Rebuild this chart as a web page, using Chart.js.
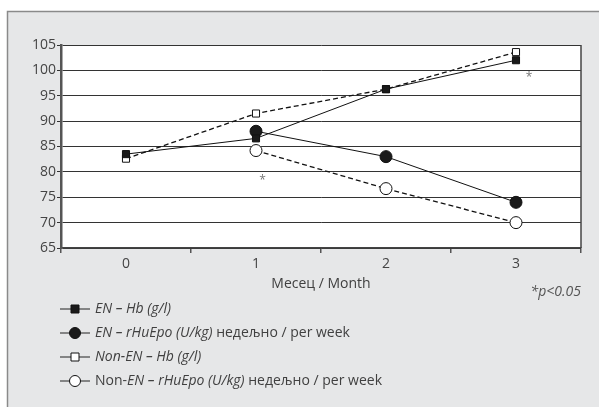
<!DOCTYPE html>
<html><head><meta charset="utf-8">
<script src="https://cdn.jsdelivr.net/npm/chart.js@4.4.0/dist/chart.umd.min.js"></script>
<style>
html,body{margin:0;padding:0;background:#fff;}
#wrap{position:relative;width:599px;height:407px;}
</style></head>
<body><div id="wrap"><canvas id="c" width="599" height="407"></canvas></div>
<script>
const months = ['0','1','2','3'];
const enHb = [83.5, 86.6, 96.3, 102.0];
const enEpo = [null, 88.0, 83.0, 74.0];
const nonEnHb = [82.6, 91.5, 96.3, 103.6];
const nonEnEpo = [null, 84.2, 76.7, 70.0];
const yTicks = [65,70,75,80,85,90,95,100,105];
const xTitle = 'Месец / Month';
const pNote = '*p<0.05';
// asterisks: [category index, value, x offset in category fraction]
const asterisks = [[1, 78.3, 0.05], [3, 98.6, 0.1]];
const legendRows = [
  [['EN – Hb (g/l)', true]],
  [['EN – rHuEpo (U/kg)', true], [' недељно / per week', false]],
  [['Non-EN – Hb (g/l)', true]],
  [['Non-', false], ['EN – rHuEpo (U/kg)', true], [' недељно / per week', false]]
];
const FONT = '"Open Sans", "Noto Sans", sans-serif';
const TXT = '#404040';
const FS = 14;

const bgPlugin = {
  id: 'bg',
  beforeDraw(chart) {
    const ctx = chart.ctx, a = chart.chartArea;
    ctx.save();
    ctx.fillStyle = '#e6e7e8';
    ctx.fillRect(7, 11, 599, 407);
    ctx.strokeStyle = '#8a8a8a';
    ctx.lineWidth = 1.5;
    ctx.beginPath();
    ctx.moveTo(7.5, 407); ctx.lineTo(7.5, 11.5); ctx.lineTo(599, 11.5);
    ctx.stroke();
    ctx.fillStyle = '#ffffff';
    ctx.fillRect(a.left, a.top, a.right - a.left, a.bottom - a.top);
    ctx.restore();
  },
  afterDatasetsDraw(chart) {
    const ctx = chart.ctx, a = chart.chartArea;
    const xs = chart.scales.x, ys = chart.scales.y;
    ctx.save();
    ctx.strokeStyle = '#444';
    ctx.lineWidth = 1.5;
    ctx.beginPath();
    ctx.moveTo(a.right, a.top); ctx.lineTo(a.right, a.bottom);
    ctx.stroke();
    // asterisks
    ctx.fillStyle = '#777';
    ctx.font = '12px ' + FONT;
    ctx.textAlign = 'center'; ctx.textBaseline = 'middle';
    const cw = (a.right - a.left) / months.length;
    asterisks.forEach(([i, v, off]) => {
      ctx.fillText('*', xs.getPixelForValue(i) + off * cw, ys.getPixelForValue(v));
    });
    // p note
    ctx.font = 'italic ' + FS + 'px ' + FONT;
    ctx.fillStyle = '#555';
    ctx.textAlign = 'right';
    ctx.fillText(pNote, a.right, 292);
    // legend
    const ds = chart.data.datasets;
    legendRows.forEach((segs, r) => {
      const y = 309 + r * 24;
      const d = ds[r];
      ctx.strokeStyle = '#222'; ctx.lineWidth = 1;
      ctx.setLineDash([]);
      ctx.beginPath(); ctx.moveTo(60, y); ctx.lineTo(90, y); ctx.stroke();
      ctx.fillStyle = d.pointBackgroundColor;
      ctx.strokeStyle = '#111';
      ctx.beginPath();
      if (d.pointStyle === 'rect') {
        ctx.rect(71, y - 4, 8, 8);
      } else {
        ctx.arc(75, y, 5.5, 0, Math.PI * 2);
      }
      ctx.fill(); ctx.stroke();
      let x = 95;
      ctx.textAlign = 'left'; ctx.textBaseline = 'middle';
      ctx.fillStyle = TXT;
      segs.forEach(([t, it]) => {
        ctx.font = (it ? 'italic ' : '') + FS + 'px ' + FONT;
        ctx.fillText(t, x, y);
        x += ctx.measureText(t).width;
      });
    });
    ctx.restore();
  }
};

function ds(label, data, style, filled, dashed, radius) {
  return {
    label, data,
    borderColor: '#111', borderWidth: dashed ? 1.3 : 1,
    borderDash: dashed ? [5, 3] : [],
    pointStyle: style, pointRadius: radius, pointHoverRadius: radius,
    pointBackgroundColor: filled ? '#1a1a1a' : '#ffffff',
    pointBorderColor: '#111', pointBorderWidth: 1,
    spanGaps: false, tension: 0, fill: false
  };
}

new Chart(document.getElementById('c'), {
  type: 'line',
  data: {
    labels: months,
    datasets: [
      ds('EN – Hb (g/l)', enHb, 'rect', true, false, 5),
      ds('EN – rHuEpo (U/kg)', enEpo, 'circle', true, false, 6),
      ds('Non-EN – Hb (g/l)', nonEnHb, 'rect', false, true, 5),
      ds('Non-EN – rHuEpo (U/kg)', nonEnEpo, 'circle', false, true, 6)
    ]
  },
  options: {
    responsive: false, animation: false,
    layout: { padding: { top: 45, right: 18, left: 0, bottom: 115 } },
    plugins: { legend: { display: false }, tooltip: { enabled: false } },
    scales: {
      x: {
        type: 'category', offset: true,
        grid: { offset: true, drawOnChartArea: false, drawTicks: true, tickLength: 5, color: '#555', lineWidth: 1.5 },
        border: { display: true, color: '#444', width: 1.5 },
        ticks: { color: '#444', font: { family: FONT, size: FS }, padding: 3 },
        title: { display: true, text: xTitle, color: TXT, font: { family: FONT, size: FS }, padding: { top: 2, bottom: 0 } },
        afterFit(s) { s.height = 44; }
      },
      y: {
        min: 65, max: 105,
        afterBuildTicks(s) { s.ticks = yTicks.map(v => ({ value: v })); },
        grid: { color: '#333', lineWidth: 1, tickLength: 4, drawTicks: true },
        border: { display: true, color: '#555', width: 2.5 },
        ticks: { color: '#444', font: { family: FONT, size: FS }, padding: 1 },
        afterFit(s) { s.width = 61; }
      }
    }
  },
  plugins: [bgPlugin]
});
</script></body></html>
